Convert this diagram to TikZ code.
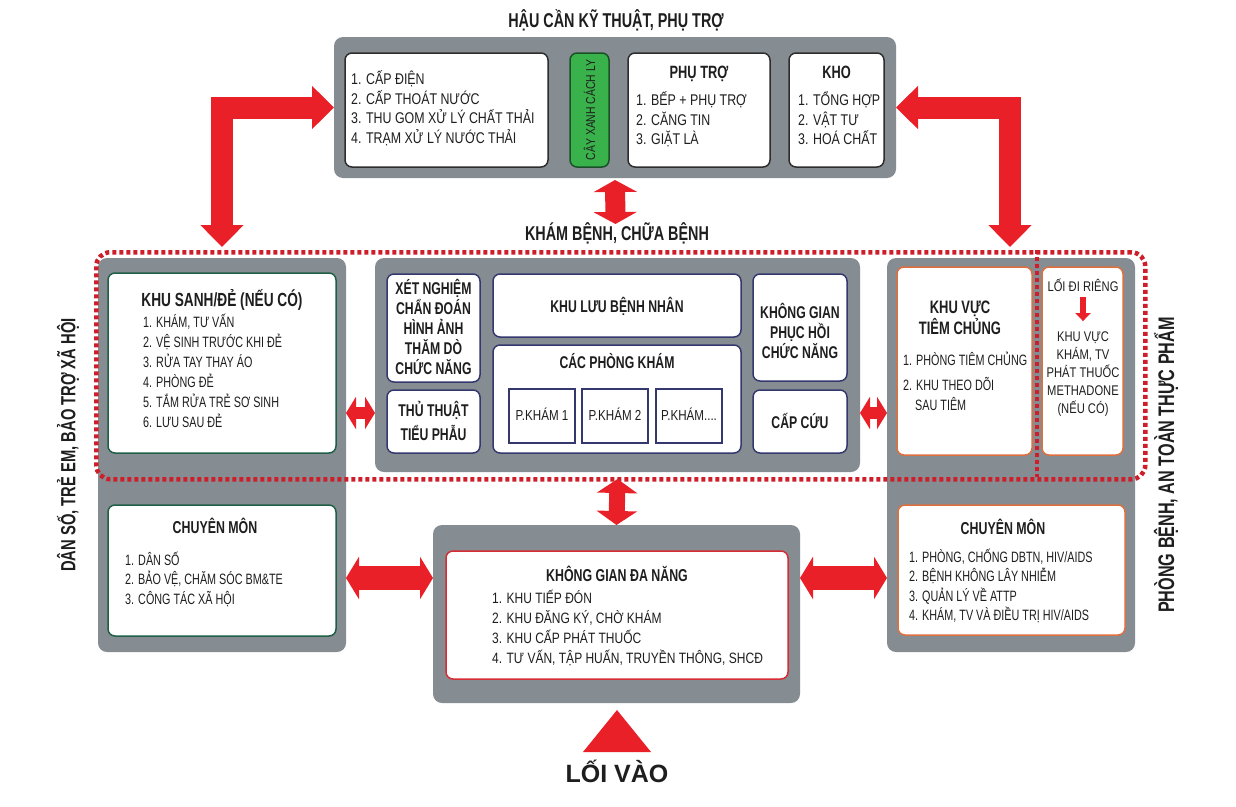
\documentclass[tikz,border=0pt]{standalone}
\usepackage{fontspec}
\setmainfont[FakeStretch=0.8]{Liberation Sans}
\newfontfamily\narrowf[FakeStretch=0.72]{Liberation Sans}
\newfontfamily\widef{Liberation Sans}
\usetikzlibrary{arrows.meta}
\newcommand\setfs[1]{\fontsize{#1pt}{#1pt}\selectfont}
\definecolor{panelgray}{RGB}{134,141,146}
\definecolor{ink}{RGB}{30,30,30}
\definecolor{arrred}{RGB}{233,32,40}
\definecolor{dotred}{RGB}{206,30,42}
\definecolor{topbd}{RGB}{45,45,45}
\definecolor{grnbd}{RGB}{30,95,70}
\definecolor{navybd}{RGB}{52,56,110}
\definecolor{orgbd}{RGB}{222,112,64}
\definecolor{redbd}{RGB}{214,44,52}
\definecolor{leafgreen}{RGB}{58,178,76}
\definecolor{leafbd}{RGB}{25,80,40}
\tikzset{
  tl/.style={inner sep=0pt, text=ink, anchor=base west, font=\setfs{#1}, yshift={-0.36*#1*1pt}},
  tnl/.style={tl=#1, font=\setfs{#1}\narrowf},
  tc/.style={inner sep=0pt, text=ink, anchor=base, font=\setfs{#1}, yshift={-0.36*#1*1pt}},
  tcb/.style={tc=#1, font=\setfs{#1}\bfseries},
  tcn/.style={tc=#1, font=\setfs{#1}\narrowf},
  tcbn/.style={tc=#1, font=\setfs{#1}\narrowf\bfseries},
  rot/.style={inner sep=0pt, text=ink, rotate=90, font=\setfs{#1}\narrowf\bfseries},
  sz/.style 2 args={minimum width=#1pt, minimum height=#2pt},
  panel/.style={fill=panelgray, rounded corners=9pt, anchor=north west, inner sep=0pt, outer sep=0pt},
  wbox/.style={fill=white, draw=#1, line width=1.5pt, rounded corners=7pt, anchor=north west, inner sep=0pt, outer sep=0pt},
  sbox/.style={fill=white, draw=navybd, line width=1.5pt, anchor=north west, inner sep=0pt, outer sep=0pt},
  fat/.style n args={3}{draw=arrred, line width=#1pt, line join=miter,
     arrows={Triangle[length=#2pt,width=#3pt]-Triangle[length=#2pt,width=#3pt]}},
  dotline/.style={draw=dotred, line width=4.5pt, dash pattern=on 4pt off 3pt},
}
\begin{document}
\begin{tikzpicture}[x=1pt,y=-1pt]
\useasboundingbox (0,0) rectangle (1236,806);
\fill[white] (0,0) rectangle (1236,806);

% ---------- gray panels ----------
\node[panel, sz={562}{141}] (topbox) at (334,37) {};
\node[panel, sz={248}{394}] (leftcol) at (98,258) {};
\node[panel, sz={485}{214}] (center) at (375,258) {};
\node[panel, sz={248}{394}] (rightcol) at (887,258) {};
\node[panel, sz={367}{178}] (bottom) at (433,525) {};

% ---------- top boxes ----------
\node[wbox=topbd, sz={203}{114}] (util) at (345,53) {};
\node[wbox=leafbd, fill=leafgreen, sz={39}{114}] (green) at (570,53) {};
\node[wbox=topbd, sz={142}{114}] (phutro) at (628,53) {};
\node[wbox=topbd, sz={95}{114}] (kho) at (789,53) {};

% ---------- middle boxes ----------
\node[wbox=grnbd, sz={228}{180}] (sanh) at (108,273) {};
\node[wbox=grnbd, sz={228}{131}] (cmleft) at (108,505) {};
\node[wbox=navybd, sz={93}{108}] (xn) at (387,274) {};
\node[wbox=navybd, sz={93}{63}] (tt) at (387,390) {};
\node[wbox=navybd, sz={248}{63}] (luu) at (493,274) {};
\node[wbox=navybd, sz={248}{108}] (pk) at (493,345) {};
\node[sbox, sz={66}{54}] (pk1) at (509,389) {};
\node[sbox, sz={66}{54}] (pk2) at (582,389) {};
\node[sbox, sz={66}{54}] (pk3) at (656,389) {};
\node[wbox=navybd, sz={94}{107}] (phcn) at (753,274) {};
\node[wbox=navybd, sz={94}{63}] (capcuu) at (753,390) {};
\node[wbox=orgbd, sz={135}{188}] (tiem) at (897,267) {};
\node[wbox=orgbd, sz={81}{188}] (metha) at (1042,267) {};
\node[wbox=orgbd, sz={227}{130}] (cmright) at (898,505) {};
\node[wbox=redbd, sz={342}{128}] (dana) at (446,551) {};

% ---------- titles ----------
\node[tcbn=20] (t-hau) at (616,20) {HẬU CẦN KỸ THUẬT, PHỤ TRỢ};
\node[tcbn=20] (t-kham) at (617,233) {KHÁM BỆNH, CHỮA BỆNH};
\node[rot=20.5] (t-dan) at (68,445) {DÂN SỐ, TRẺ EM, BẢO TRỢ XÃ HỘI};
\node[rot=22.5] (t-phong) at (1166,465) {PHÒNG BỆNH, AN TOÀN THỰC PHẨM};

% ---------- top texts ----------
\foreach \s [count=\i] in {{1. CẤP ĐIỆN},{2. CẤP THOÁT NƯỚC},{3. THU GOM XỬ LÝ CHẤT THẢI},{4. TRẠM XỬ LÝ NƯỚC THẢI}}
  \node[tl=15.5] (u\i) at (351,{79+(\i-1)*19.5}) {\s};
\node[inner sep=0pt, rotate=90, text=ink, font=\setfs{13}] (t-cay) at (green.center) {CÂY XANH CÁCH LY};
\node[tcbn=17.8] (t-phutro) at (699,72) {PHỤ TRỢ};
\foreach \s [count=\i] in {{1. BẾP + PHỤ TRỢ},{2. CĂNG TIN},{3. GIẶT LÀ}}
  \node[tl=15.5] (p\i) at (636,{100+(\i-1)*19.5}) {\s};
\node[tcbn=17.8] (t-kho) at (836.5,72) {KHO};
\foreach \s [count=\i] in {{1. TỔNG HỢP},{2. VẬT TƯ},{3. HOÁ CHẤT}}
  \node[tl=15.5] (k\i) at (798,{100+(\i-1)*19.5}) {\s};

% ---------- left column texts ----------
\node[tcbn=19] (t-sanh) at (222,300) {KHU SANH/ĐẺ (NẾU CÓ)};
\foreach \s [count=\i] in {{1. KHÁM, TƯ VẤN},{2. VỆ SINH TRƯỚC KHI ĐẺ},{3. RỬA TAY THAY ÁO},{4. PHÒNG ĐẺ},{5. TẮM RỬA TRẺ SƠ SINH},{6. LƯU SAU ĐẺ}}
  \node[tnl=15] (s\i) at (143,{322+(\i-1)*20}) {\s};
\node[tcbn=17.2] (t-cm1) at (215,527) {CHUYÊN MÔN};
\foreach \s [count=\i] in {{1. DÂN SỐ},{2. BẢO VỆ, CHĂM SÓC BM\&TE},{3. CÔNG TÁC XÃ HỘI}}
  \node[tnl=15] (c\i) at (125,{560+(\i-1)*19.5}) {\s};

% ---------- center texts ----------
\foreach \s [count=\i] in {{XÉT NGHIỆM},{CHẨN ĐOÁN},{HÌNH ẢNH},{THĂM DÒ},{CHỨC NĂNG}}
  \node[tcbn=17] (x\i) at (433.5,{288+(\i-1)*20}) {\s};
\node[tcbn=17] (t-tt1) at (433.5,410) {THỦ THUẬT};
\node[tcbn=17] (t-tt2) at (433.5,434) {TIỂU PHẪU};
\node[tcbn=17] (t-luu) at (617,306) {KHU LƯU BỆNH NHÂN};
\node[tcbn=17] (t-pk) at (617,362) {CÁC PHÒNG KHÁM};
\node[tc=14.5] (t-pk1) at ([yshift=1pt]pk1.center) {P.KHÁM 1};
\node[tc=14.5] (t-pk2) at ([yshift=1pt]pk2.center) {P.KHÁM 2};
\node[tc=14.5] (t-pk3) at ([yshift=1pt]pk3.center) {P.KHÁM....};
\foreach \s [count=\i] in {{KHÔNG GIAN},{PHỤC HỒI},{CHỨC NĂNG}}
  \node[tcbn=17] (h\i) at (800,{312+(\i-1)*20}) {\s};
\node[tcbn=17] (t-cc) at (800,422) {CẤP CỨU};

% ---------- right column texts ----------
\node[tcbn=18] (t-kv1) at (960,307) {KHU VỰC};
\node[tcbn=18] (t-kv2) at (960,328) {TIÊM CHỦNG};
\node[tnl=15] (tc1) at (903,360) {1. PHÒNG TIÊM CHỦNG};
\node[tnl=15] (tc2) at (903,385) {2. KHU THEO DÕI};
\node[tnl=15] (tc3) at (915,405) {SAU TIÊM};
\node[tc=14] (m0) at (1083,286) {LỐI ĐI RIÊNG};
\foreach \s [count=\i] in {{KHU VỰC},{KHÁM, TV},{PHÁT THUỐC},{METHADONE},{(NẾU CÓ)}}
  \node[tc=14] (m\i) at (1083,{336+(\i-1)*18}) {\s};
\node[tcbn=17.2] (t-cm2) at (1003,528) {CHUYÊN MÔN};
\foreach \s [count=\i] in {{1. PHÒNG, CHỐNG DBTN, HIV/AIDS},{2. BỆNH KHÔNG LÂY NHIỄM},{3. QUẢN LÝ VỀ ATTP},{4. KHÁM, TV VÀ ĐIỀU TRỊ HIV/AIDS}}
  \node[tnl=15] (r\i) at (909,{557+(\i-1)*19.5}) {\s};

% ---------- bottom texts ----------
\node[tcbn=17.2] (t-dana) at (617,575) {KHÔNG GIAN ĐA NĂNG};
\foreach \s [count=\i] in {{1. KHU TIẾP ĐÓN},{2. KHU ĐĂNG KÝ, CHỜ KHÁM},{3. KHU CẤP PHÁT THUỐC},{4. TƯ VẤN, TẬP HUẤN, TRUYỀN THÔNG, SHCĐ}}
  \node[tl=15] (d\i) at (492,{598+(\i-1)*20}) {\s};
\node[inner sep=0pt, anchor=base, text=ink, font=\setfs{25}\widef\bfseries] (t-loi) at (617,782) {LỐI VÀO};

% ---------- dotted zone ----------
\node[dotline, rounded corners=14pt, anchor=north west, inner sep=0pt, sz={1049}{227}] (zone) at (94,250) {};
\coordinate (zsplitT) at (1037,250);
\coordinate (zsplitB) at (1037,477);
\draw[dotline] (zsplitT) -- (zsplitB);

% ---------- arrows ----------
\coordinate (ltip) at (222,247);
\coordinate (rtip) at (1010,247);
\draw[fat={22}{22}{42}] (topbox.west) -| (ltip);
\draw[fat={22}{22}{42}] (topbox.east) -| (rtip);
\coordinate (cmid) at (615.5,224);
\draw[fat={20}{12}{43}] ([yshift=-2pt]topbox.south) -- (cmid);
\draw[fat={12}{10}{32}] ([yshift=42pt]leftcol.east) -- ([yshift=-48pt]center.west);
\draw[fat={12}{10}{32}] ([yshift=-48pt]center.east) -- ([yshift=42pt]rightcol.west);
\draw[fat={16}{14}{40}] ([yshift=-7pt]center.south) -- (bottom.north);
\draw[fat={24}{13}{42}] ([yshift=-123pt]leftcol.east) -- ([yshift=36pt]bottom.west);
\draw[fat={24}{13}{42}] ([yshift=36pt]bottom.east) -- ([yshift=-123pt]rightcol.west);
\draw[draw=arrred, line width=6pt, arrows={-Triangle[length=8pt,width=15pt]}] ([yshift=-6pt]m0.south) -- ([yshift=10pt]m1.north);
\fill[arrred] (617,710) -- (651,752) -- (583,752) -- cycle;
\end{tikzpicture}
\end{document}
